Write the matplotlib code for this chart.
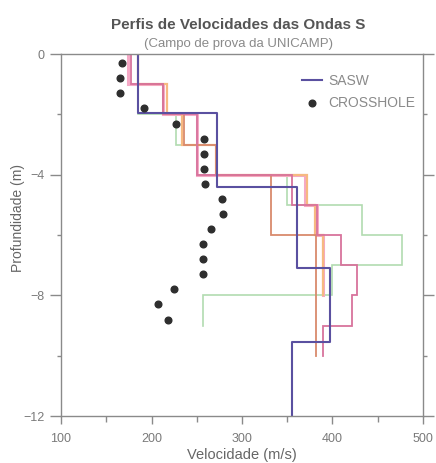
import numpy as np
import matplotlib
matplotlib.use("Agg")
import matplotlib.pyplot as plt
from matplotlib.ticker import MultipleLocator

plt.rcParams['font.family'] = ['Liberation Sans', 'DejaVu Sans']

# ---- data (velocity m/s per layer, layer boundaries in m) ----
sasw_depth = [0, -1.95, -4.4, -7.1, -9.55, -12]
sasw_vel = [185, 272, 361, 397, 355]

pink_depth = [0, -1, -2, -4, -5, -6, -8]
pink_vel = [174, 213, 250, 370, 383, 390]

orange_depth = [0, -1, -2, -3, -4, -5, -6, -8]
orange_vel = [185, 217, 234, 271, 372, 381, 390]

brown_depth = [0, -1, -2, -3, -4, -6, -10]
brown_vel = [185, 213, 236, 271, 332, 382]

magenta_depth = [0, -1, -2, -4, -5, -6, -7, -8, -9, -10]
magenta_vel = [177, 213, 250, 355, 383, 410, 427, 422, 390]

green_depth = [0, -2, -3, -4, -5, -6, -7, -8, -9]
green_vel = [185, 227, 250, 350, 433, 477, 399, 257]

cross_depth = [-0.3, -0.8, -1.3, -1.8, -2.3, -2.8, -3.3, -3.8, -4.3, -4.8,
               -5.3, -5.8, -6.3, -6.8, -7.3, -7.8, -8.3, -8.8]
cross_vel = [167, 165, 165, 192, 227, 258, 258, 258, 259, 278,
             279, 266, 257, 257, 257, 225, 207, 218]

xticks = [100, 200, 300, 400, 500]
yticks = [0, -4, -8, -12]


def step_path(depths, vels):
    d = np.asarray(depths, dtype=float)
    v = np.asarray(vels, dtype=float)
    x = np.repeat(v, 2)
    y = np.column_stack([d[:-1], d[1:]]).ravel()
    return x, y


fig = plt.figure(figsize=(4.36, 4.63), dpi=100)
ax = fig.add_axes([0.140, 0.1015, 0.830, 0.7815])

gray = '#8a8a8a'
txt = '#7a7a7a'

for dep, vel, col, lw in [
    (green_depth, green_vel, '#b2dbb0', 1.2),
    (pink_depth, pink_vel, '#f5a9c6', 2.2),
    (orange_depth, orange_vel, '#f6b981', 1.6),
    (brown_depth, brown_vel, '#d98a6c', 1.3),
    (magenta_depth, magenta_vel, '#d8739c', 1.3),
]:
    x, y = step_path(dep, vel)
    ax.plot(x, y, color=col, lw=lw, solid_joinstyle='miter')

x, y = step_path(sasw_depth, sasw_vel)
ax.plot(x, y, color='#5a50a0', lw=1.5, label='SASW')
ax.plot(cross_vel, cross_depth, 'o', color='#2e2e2e', ms=4.8, label='CROSSHOLE',
        linestyle='none')

ax.set_xlim(100, 500)
ax.set_ylim(-12, 0)
ax.set_xticks(xticks)
ax.set_yticks(yticks)
ax.xaxis.set_minor_locator(MultipleLocator(50))
ax.yaxis.set_minor_locator(MultipleLocator(2))

for s in ax.spines.values():
    s.set_color(gray)
    s.set_linewidth(1.0)

ax.tick_params(axis='both', which='both', direction='out', width=1,
               color=gray, labelcolor=txt, labelsize=9)
ax.tick_params(axis='y', which='major', length=8, pad=4)
ax.tick_params(axis='y', which='minor', length=3)
ax.tick_params(axis='x', which='major', length=6, pad=6)
ax.tick_params(axis='x', which='minor', length=4)
ax.tick_params(axis='y', which='both', right=True)

ax.set_xlabel('Velocidade (m/s)', fontsize=10.5, color='#666666')
ax.xaxis.set_label_coords(0.5, -0.126)
ax.xaxis.label.set_va('bottom')
ax.set_ylabel('Profundidade (m)', fontsize=10, color='#666666')
ax.yaxis.set_label_coords(-0.119, 0.547)
ax.yaxis.label.set_va('center')

fig.text(0.547, 0.946, 'Perfis de Velocidades das Ondas S', ha='center',
         va='center', fontsize=11, fontweight='bold', color='#555555')
fig.text(0.547, 0.905, '(Campo de prova da UNICAMP)', ha='center',
         va='center', fontsize=9.5, color='#8a8a8a')

leg = ax.legend(loc='upper left', bbox_to_anchor=(0.666, 0.945), frameon=False,
                fontsize=10, handlelength=1.45, handletextpad=0.45,
                labelspacing=0.6, borderpad=0, borderaxespad=0,
                labelcolor='#8a8a8a')

fig.savefig('out.png', dpi=100)
